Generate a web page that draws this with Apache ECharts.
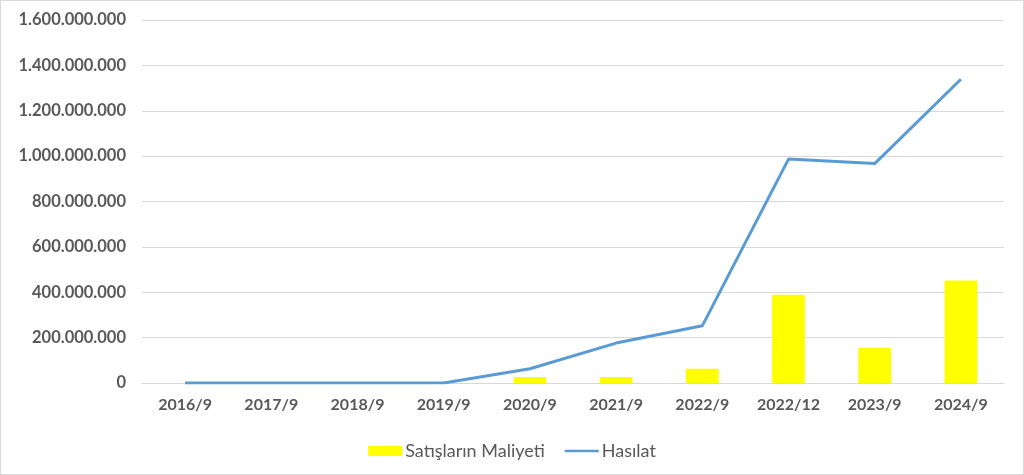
<!DOCTYPE html>
<html><head><meta charset="utf-8">
<script src="https://cdn.jsdelivr.net/npm/echarts@6/dist/echarts.min.js"></script>
<style>html,body{margin:0;padding:0;background:#fff}#c{width:1024px;height:475px;box-sizing:border-box;border:1px solid #d9d9d9}</style>
</head><body><div id="c"></div>
<script>
var categories = ['2016/9','2017/9','2018/9','2019/9','2020/9','2021/9','2022/9','2022/12','2023/9','2024/9'];
var maliyet = [0,0,0,0,26000000,26000000,63000000,389000000,155000000,452000000];
var hasilat = [0,0,0,0,63000000,176000000,252000000,987000000,967000000,1339000000];
var chart = echarts.init(document.getElementById('c'));
function fmt(v){return String(v).replace(/\B(?=(\d{3})+(?!\d))/g,'.');}
chart.setOption({
  animation:false,
  textStyle:{fontFamily:'Lato'},
  grid:{left:141,right:19,top:19,bottom:91,containLabel:false},
  legend:{top:436,left:'center',itemGap:20,itemWidth:34,itemHeight:10,
    textStyle:{color:'#595959',fontSize:18,fontFamily:'Lato',padding:[0,0,0,-2]},
    data:[{name:'Satışların Maliyeti',icon:'rect'},{name:'Hasılat',icon:'path://M0,4 L34,4 L34,6.5 L0,6.5 Z'}]},
  xAxis:{type:'category',data:categories,
    axisLine:{lineStyle:{color:'#d9d9d9',width:1}},axisTick:{show:false},
    axisLabel:{color:'#595959',fontSize:16,fontWeight:'bold',margin:14,fontFamily:'Lato'}},
  yAxis:{type:'value',min:0,max:1600000000,interval:200000000,
    axisLine:{show:false},axisTick:{show:false},
    splitLine:{lineStyle:{color:'#d9d9d9',width:1}},
    axisLabel:{color:'#595959',fontSize:16.5,fontWeight:'bold',margin:16,fontFamily:'Lato',formatter:fmt}},
  series:[
    {name:'Satışların Maliyeti',type:'bar',data:maliyet,barWidth:'38%',itemStyle:{color:'#ffff00'}},
    {name:'Hasılat',type:'line',data:hasilat,showSymbol:false,symbol:'none',lineStyle:{color:'#5b9bd5',width:3},itemStyle:{color:'#5b9bd5'}}
  ]
});
</script></body></html>
